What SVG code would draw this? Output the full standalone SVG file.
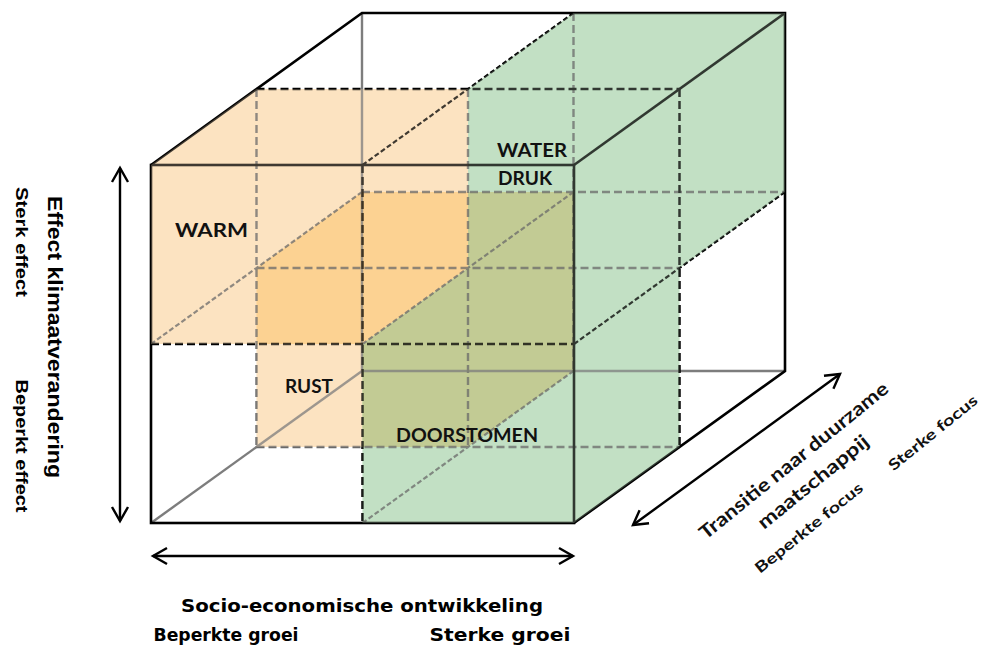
<svg xmlns="http://www.w3.org/2000/svg" width="985" height="650" viewBox="0 0 985 650">
<defs>
<style>
.lo{fill:#FCE3C1}
.do{fill:#FCD292}
.gr{fill:#C2E0C4}
.ol{fill:#C2CB94}
.s{stroke:#000;stroke-width:2.6;fill:none}
.h{stroke:#7d7d7d;stroke-width:2.4;fill:none}
.d{stroke:#000;stroke-width:2.5;fill:none;stroke-dasharray:8 4}
.dg{stroke:#6a6a6a;stroke-width:2.4;fill:none;stroke-dasharray:8 4}
.fd{stroke:#000;stroke-width:2.2;fill:none;stroke-dasharray:5 2.5}
.fg{stroke:#6a6a6a;stroke-width:2.2;fill:none;stroke-dasharray:5 2.5}
.ax{stroke:#000;stroke-width:2.4;fill:none;marker-start:url(#ah);marker-end:url(#ah)}
.lab{font-family:Lato,"Open Sans","Liberation Sans",sans-serif;font-weight:bold;font-size:19px;fill:#111;text-anchor:middle}
.rot{font-family:Lato,"Open Sans","Liberation Sans",sans-serif;font-weight:bold;fill:#111;text-anchor:middle}
.vl{font-family:"Liberation Sans",Arial,sans-serif;font-weight:bold;fill:#000;text-anchor:middle}
.bt{font-family:"DejaVu Sans",Verdana,sans-serif;font-weight:bold;fill:#000;text-anchor:middle;font-size:17px}
</style>
<marker id="ah" viewBox="-16 -10 20 20" markerWidth="20" markerHeight="20" refX="0" refY="0" orient="auto-start-reverse" markerUnits="userSpaceOnUse">
<path d="M-14,-8 L0,0 L-14,8" fill="none" stroke="#000" stroke-width="2.4"/>
</marker>
<g id="fills">
<polygon class="lo" points="151,165 256.5,89 468,89 468,268 362.5,344 151,344"/>
<polygon class="lo" points="256.5,268 362,192 573.5,192 573.5,371 468,447 256.5,447"/>
<polygon class="do" points="256.5,268 362,192 468,192 468,268 362.5,344 256.5,344"/>
<polygon class="gr" points="468,89 573.5,13 785,13 785,192 679.5,268 679.5,447 574,523 362.5,523 362.5,344 468,268"/>
<polygon class="ol" points="362.5,344 468,268 468,192 573.5,192 573.5,371 468,447 362.5,447"/>
</g>
</defs>
<rect width="985" height="650" fill="#fff"/>
<g id="scenario-blocks">
<use href="#fills"/>
</g>
<g id="connectors">
<line class="h" x1="362" y1="13" x2="362" y2="371"/>
<line class="h" x1="362" y1="371" x2="785" y2="371"/>
<line class="h" x1="151" y1="523" x2="362" y2="371"/>
<line class="dg" x1="256.5" y1="89" x2="256.5" y2="447"/>
<line class="dg" x1="468" y1="89" x2="468" y2="447"/>
<line class="dg" x1="573.5" y1="13" x2="573.5" y2="371"/>
<line class="dg" x1="362" y1="192" x2="785" y2="192"/>
<line class="dg" x1="256.5" y1="268" x2="679.5" y2="268"/>
<line class="dg" x1="256.5" y1="447" x2="679.5" y2="447"/>
<line class="fg" x1="151" y1="344" x2="362" y2="192"/>
<line class="fg" x1="362.5" y1="344" x2="573.5" y2="192"/>
<line class="fg" x1="362.5" y1="523" x2="573.5" y2="371"/>
<line class="d" x1="256.5" y1="89" x2="679.5" y2="89"/>
<line class="d" x1="679.5" y1="89" x2="679.5" y2="447"/>
<line class="d" x1="362.5" y1="165" x2="362.5" y2="523"/>
<line class="d" x1="151" y1="344" x2="574" y2="344"/>
<line class="fd" x1="362.5" y1="165" x2="573.5" y2="13"/>
<line class="fd" x1="574" y1="344" x2="785" y2="192"/>
<polyline class="s" points="151,165 362,13 785,13 785,371 574,523"/>
<rect class="s" x="151" y="165" width="423" height="358"/>
<line class="s" x1="574" y1="165" x2="785" y2="13"/>
</g>
<g id="tint" opacity="0.25">
<use href="#fills"/>
</g>
<g id="labels">
<text class="lab" x="211.5" y="237" textLength="73" lengthAdjust="spacingAndGlyphs">WARM</text>
<text class="lab" x="532" y="157" textLength="70" lengthAdjust="spacingAndGlyphs">WATER</text>
<text class="lab" x="525" y="185" textLength="54" lengthAdjust="spacingAndGlyphs">DRUK</text>
<text class="lab" x="309" y="393" textLength="48" lengthAdjust="spacingAndGlyphs">RUST</text>
<text class="lab" x="467" y="442" textLength="142" lengthAdjust="spacingAndGlyphs">DOORSTOMEN</text>
</g>
<g id="axis-climate">
<line class="ax" x1="120" y1="168" x2="120" y2="521"/>
<text class="vl" transform="translate(54,337) rotate(90)" y="6" font-size="20" textLength="282" lengthAdjust="spacingAndGlyphs">Effect  klimaatverandering</text>
<text class="vl" transform="translate(20,242) rotate(90)" y="4" font-size="16" textLength="110" lengthAdjust="spacingAndGlyphs">Sterk effect</text>
<text class="vl" transform="translate(20,446) rotate(90)" y="4" font-size="16" textLength="133" lengthAdjust="spacingAndGlyphs">Beperkt effect</text>
</g>
<g id="axis-socio">
<line class="ax" x1="153" y1="556" x2="573" y2="556"/>
<text class="bt" x="362" y="612" textLength="362" lengthAdjust="spacingAndGlyphs">Socio-economische ontwikkeling</text>
<text class="bt" x="226" y="641" textLength="145" lengthAdjust="spacingAndGlyphs">Beperkte groei</text>
<text class="bt" x="500" y="641" textLength="141" lengthAdjust="spacingAndGlyphs">Sterke groei</text>
</g>
<g id="axis-transition">
<line class="ax" x1="633" y1="525" x2="840" y2="374"/>
<text class="rot" transform="translate(794,461) rotate(-39)" y="6" font-size="19" textLength="237" lengthAdjust="spacingAndGlyphs">Transitie naar duurzame</text>
<text class="rot" transform="translate(814,483) rotate(-39)" y="5" font-size="19" textLength="137" lengthAdjust="spacingAndGlyphs">maatschappij</text>
<text class="rot" transform="translate(809,528) rotate(-39)" y="5" font-size="15" textLength="134" lengthAdjust="spacingAndGlyphs">Beperkte focus</text>
<text class="rot" transform="translate(933,433) rotate(-39)" y="5" font-size="15" textLength="110" lengthAdjust="spacingAndGlyphs">Sterke focus</text>
</g>
</svg>
